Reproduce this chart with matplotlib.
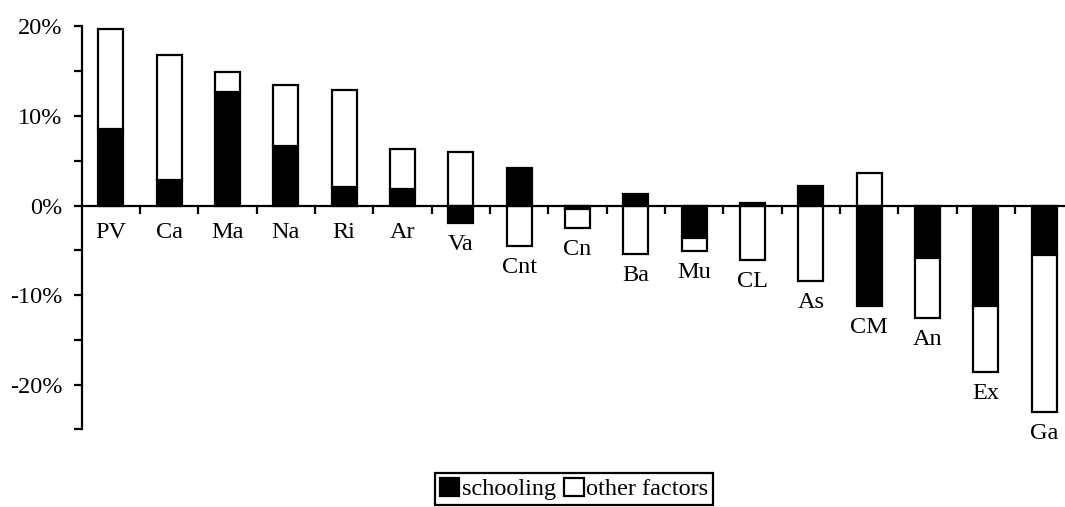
# -------------------- Imports -----------------------
import numpy as np
import matplotlib
matplotlib.use('Agg')
from matplotlib import pyplot as plt
from matplotlib.patches import Patch

# -------------------- Datos -----------------------
regions = ['PV', 'Ca', 'Ma', 'Na', 'Ri', 'Ar', 'Va', 'Cnt', 'Cn',
           'Ba', 'Mu', 'CL', 'As', 'CM', 'An', 'Ex', 'Ga']
schooling = [8.5, 2.8, 12.7, 6.6, 2.1, 1.8, -1.9, 4.2, -0.4,
             1.3, -3.6, 0.3, 2.2, -11.2, -5.9, -11.2, -5.5]
other_factors = [11.2, 14.0, 2.2, 6.9, 10.8, 4.5, 6.0, -4.5, -2.1,
                 -5.4, -1.5, -6.05, -8.4, 3.6, -6.7, -7.4, -17.6]
ytick_values = [-20, -10, 0, 10, 20]
ytick_labels = ['-20%', '-10%', '0%', '10%', '20%']
legend_labels = ['schooling', 'other factors']

plt.rcParams['font.family'] = ['Liberation Serif', 'DejaVu Serif']
plt.rcParams['font.size'] = 17.5

# -------------------- Figura -----------------------
fig = plt.figure(figsize=(10.65, 5.07), dpi=100)
ax = fig.add_axes([81.7 / 1065, 1 - 429.3 / 507, 1 - 81.7 / 1065, (429.3 - 26.5) / 507])

x = np.arange(len(regions))
s = np.array(schooling)
o = np.array(other_factors)
# las barras apiladas: si tienen el mismo signo se apilan, si no arrancan en 0
bottom_o = np.where(s * o > 0, s, 0)

ax.bar(x, s, width=0.43, color='black', edgecolor='black', linewidth=1.6, zorder=2)
ax.bar(x, o, width=0.43, bottom=bottom_o, color='white', edgecolor='black', linewidth=1.6, zorder=2)

# etiquetas de las regiones debajo de cada barra
low = np.minimum(0, np.minimum(s, bottom_o + o))
for i in range(len(regions)):
    gap = -12 if low[i] >= 0 else -8
    ax.annotate(regions[i], (x[i], low[i]), xytext=(0, gap), textcoords='offset points',
                ha='center', va='top')

# -------------------- Ejes -----------------------
ax.set_xlim(-0.5, -0.5 + (1065 - 81.7) / 58.33)
ax.set_ylim(-25, 20)
ax.spines['top'].set_visible(False)
ax.spines['right'].set_visible(False)
ax.spines['bottom'].set_position(('data', 0))
ax.spines['bottom'].set_linewidth(1.6)
ax.spines['left'].set_linewidth(1.6)
ax.spines['bottom'].set_zorder(3)

ax.set_xticks(x[:-1] + 0.5)
ax.set_xticklabels([])
ax.tick_params(axis='x', direction='out', length=6, width=1.6)

ax.set_yticks(ytick_values)
ax.set_yticklabels(ytick_labels)
ax.set_yticks([-25, -15, -5, 5, 15], minor=True)
ax.tick_params(axis='y', which='both', direction='out', length=6, width=1.6, pad=8)

# -------------------- Leyenda -----------------------
handles = [Patch(facecolor='black', edgecolor='black', linewidth=1.6),
           Patch(facecolor='white', edgecolor='black', linewidth=1.6)]
leg = fig.legend(handles, legend_labels, loc='upper left', ncol=2,
                 bbox_to_anchor=(435 / 1065, 1 - 472.7 / 507),
                 handlelength=0.8, handleheight=0.8, handletextpad=0.1,
                 columnspacing=0.35, borderpad=0.2, fancybox=False,
                 frameon=True, framealpha=1, edgecolor='black', borderaxespad=0)
leg.get_frame().set_linewidth(1.6)

fig.savefig('out.png', dpi=100)
